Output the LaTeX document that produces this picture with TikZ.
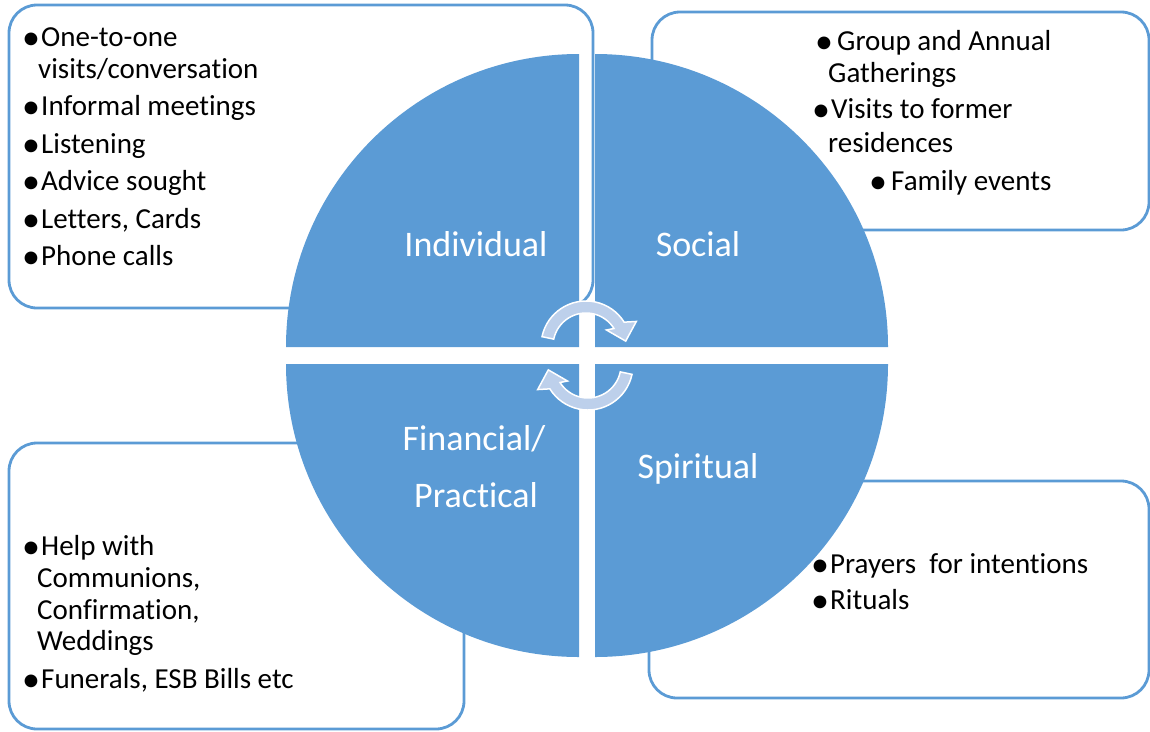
\documentclass[tikz,border=0pt]{standalone}
\usepackage{fontspec}
\setmainfont{Carlito}[Ligatures=NoCommon]
\definecolor{quadblue}{HTML}{5B9BD5}
\definecolor{cycblue}{HTML}{BDD0EB}
\newcommand{\dotmark}{\makebox[0pt]{\raisebox{-3.3pt}{\fontsize{36}{36}\selectfont\textbullet}}}
\newcommand{\bul}{\makebox[15pt][l]{\hspace{5pt}\dotmark}}
\newcommand{\bulsp}{\makebox[19pt][l]{\hspace{6pt}\dotmark}}
\tikzset{
  box/.style={draw=quadblue, line width=2.8pt, rounded corners=28pt, fill=white, inner sep=0pt},
  quad/.style={fill=quadblue},
  qlabel/.style={text=white, font=\fontsize{36}{40}\selectfont, anchor=base, inner sep=0pt},
  item/.style={font=\fontsize{29}{32}\selectfont, anchor=base west, inner sep=0pt},
  cyc/.style={fill=cycblue, draw=white, line width=1.5pt, line join=miter},
}

\begin{document}
\begin{tikzpicture}[x=1pt, y=-1pt]
		\useasboundingbox (0,0) rectangle (1150,731);

		% text boxes behind the circle
		\node[box, minimum width=584pt, minimum height=303pt] (indbox) at (301, 156.5) {};
		\node[box, minimum width=497pt, minimum height=218pt] (socbox) at (900.5, 121) {};
		\node[box, minimum width=455pt, minimum height=286pt] (finbox) at (236.5, 586) {};
		\node[box, minimum width=500pt, minimum height=217pt] (spibox) at (899, 589.5) {};

		% quadrants
		\fill[quad] (579, 347) -- (286, 347) arc[start angle=180, end angle=270, radius=293] -- cycle;
		\fill[quad] (595, 347) -- (595, 54) arc[start angle=270, end angle=360, radius=293] -- cycle;
		\fill[quad] (579, 364) -- (286, 364) arc[start angle=180, end angle=90, radius=293] -- cycle;
		\fill[quad] (595, 364) -- (888, 364) arc[start angle=0, end angle=90, radius=293] -- cycle;

		\node[qlabel] (indlab) at (476, 256) {Individual};
		\node[qlabel] (soclab) at (698, 256) {Social};
		\node[qlabel] (finlab1) at (474, 450) {Financial/};
		\node[qlabel] (finlab2) at (476, 507) {Practical};
		\node[qlabel] (spilab) at (698, 478) {Spiritual};

		% individual
		\node[item] (ind1) at (26, 46) {\bul One-to-one};
		\node[item] (ind2) at (38, 78) {visits/conversation};
		\node[item] (ind3) at (26, 115) {\bul Informal meetings};
		\node[item] (ind4) at (26, 153) {\bul Listening};
		\node[item] (ind5) at (26, 190) {\bul Advice sought};
		\node[item] (ind6) at (26, 228) {\bul Letters, Cards};
		\node[item] (ind7) at (26, 265) {\bul Phone calls};

		% social
		\node[item] (soc1) at (818, 50) {\bulsp Group and Annual};
		\node[item] (soc2) at (828, 82) {Gatherings};
		\node[item] (soc3) at (816, 118) {\bul Visits to former};
		\node[item] (soc4) at (828, 152) {residences};
		\node[item] (soc5) at (872, 190) {\bulsp Family events};

		% financial / practical
		\node[item] (fin1) at (26, 555) {\bul Help with};
		\node[item] (fin2) at (37, 587) {Communions,};
		\node[item] (fin3) at (37, 619) {Confirmation,};
		\node[item] (fin4) at (37, 650) {Weddings};
		\node[item] (fin5) at (26, 688) {\bul Funerals, ESB Bills etc};

		% spiritual
		\node[item] (spi1) at (815, 573) {\bul Prayers\ \ for intentions};
		\node[item] (spi2) at (815, 609) {\bul Rituals};

		% cycle arrows
		\begin{scope}[shift={(586, 346)}, yscale=-1]
			\draw[cyc] (168:45) arc[start angle=168, end angle=32, radius=45]
				-- (26:56) -- (7:40) -- (38:26) -- (32:33)
				arc[start angle=32, end angle=168, radius=33] -- cycle;
		\end{scope}
		\begin{scope}[shift={(588, 365)}, yscale=-1, rotate=180]
			\draw[cyc] (168:45) arc[start angle=168, end angle=32, radius=45]
				-- (26:56) -- (7:40) -- (38:26) -- (32:33)
				arc[start angle=32, end angle=168, radius=33] -- cycle;
		\end{scope}

	\end{tikzpicture}
\end{document}
